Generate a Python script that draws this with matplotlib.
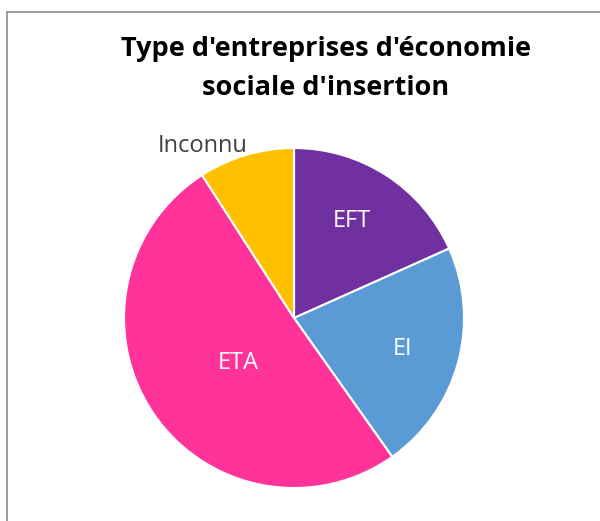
import numpy as np
import matplotlib.pyplot as plt
from matplotlib.patches import Rectangle

# Data (in %)
labels = ["EFT", "EI", "ETA", "Inconnu"]
values = [18.3, 21.9, 50.7, 9.1]
colors = ["#7030A0", "#5B9BD5", "#FF3399", "#FFC000"]
label_colors = ["white", "white", "white", "#404040"]
# label positions in units of the pie radius (Excel-style placement)
label_pos = [(0.341, 0.57), (0.641, -0.185), (-0.329, -0.265), (-0.535, 1.01)]

plt.rcParams["font.family"] = ["Open Sans", "DejaVu Sans"]

fig = plt.figure(figsize=(6, 5.21), dpi=100)

# chart frame
fig.patches.append(Rectangle((7 / 600, -0.1), 1.2, 1 - 12 / 521 + 0.1,
                             transform=fig.transFigure, fill=False,
                             edgecolor="#8c8c8c", linewidth=1.2))

ax = fig.add_axes([0.2067, 0.0633, 0.5667, 0.6526])
wedges, _ = ax.pie(values, colors=colors, startangle=90, counterclock=False,
                   wedgeprops=dict(edgecolor="white", linewidth=1.5))
ax.set_xlim(-1, 1)
ax.set_ylim(-1, 1)
ax.set_aspect("equal")
ax.axis("off")

for lab, c, (x, y) in zip(labels, label_colors, label_pos):
    ax.text(x, y, lab, color=c, fontsize=17, ha="center", va="center")

fig.text(0.543, 0.869, "Type d'entreprises d'économie\nsociale d'insertion",
         ha="center", va="center", fontsize=19.5, fontweight="bold",
         linespacing=1.65)

fig.savefig("out.png", dpi=100)
